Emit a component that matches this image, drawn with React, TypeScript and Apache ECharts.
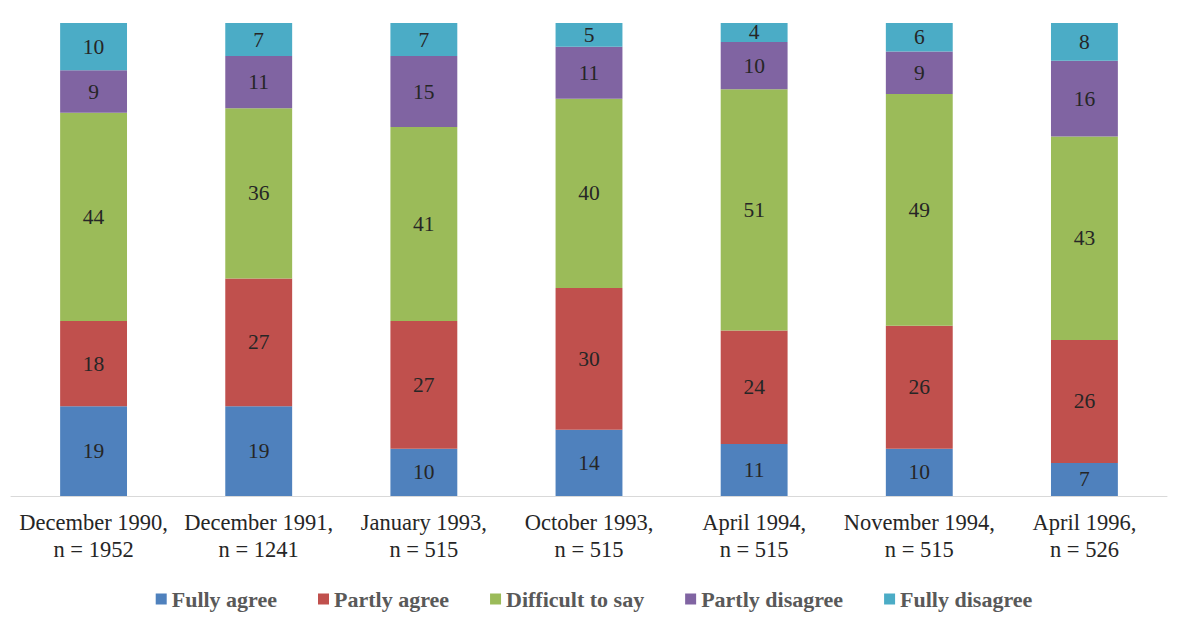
import React, { useEffect, useRef } from "react";
import * as echarts from "echarts";

const categories = [
  "December 1990,\nn = 1952",
  "December 1991,\nn = 1241",
  "January 1993,\nn = 515",
  "October 1993,\nn = 515",
  "April 1994,\nn = 515",
  "November 1994,\nn = 515",
  "April 1996,\nn = 526",
];
const seriesNames = ["Fully agree", "Partly agree", "Difficult to say", "Partly disagree", "Fully disagree"];
const fullyAgree = [19, 19, 10, 14, 11, 10, 7];
const partlyAgree = [18, 27, 27, 30, 24, 26, 26];
const difficult = [44, 36, 41, 40, 51, 49, 43];
const partlyDisagree = [9, 11, 15, 11, 10, 9, 16];
const fullyDisagree = [10, 7, 7, 5, 4, 6, 8];
const colors = ["#4F81BD", "#C0504D", "#9BBB59", "#8064A2", "#4BACC6"];

const SERIF = "'Liberation Serif', 'DejaVu Serif', 'Times New Roman', serif";

export default function App() {
  const ref = useRef<HTMLDivElement>(null);
  useEffect(() => {
    const chart = echarts.init(ref.current!, null, { renderer: "svg" });
    const data = [fullyAgree, partlyAgree, difficult, partlyDisagree, fullyDisagree];
    chart.setOption({
      animation: false,
      backgroundColor: "#ffffff",
      grid: { left: 11, right: 21, top: 23, bottom: 131, containLabel: false },
      legend: {
        bottom: 12,
        left: "center",
        itemWidth: 11,
        itemHeight: 11,
        itemGap: 41,
        icon: "rect",
        textStyle: {
          fontFamily: SERIF,
          fontWeight: "bold",
          fontSize: 22,
          color: "#595959",
        },
        data: seriesNames,
      },
      xAxis: {
        type: "category",
        data: categories,
        axisLine: { lineStyle: { color: "#D9D9D9", width: 1 } },
        axisTick: { show: false },
        axisLabel: {
          interval: 0,
          margin: 13,
          fontFamily: SERIF,
          fontSize: 22.5,
          lineHeight: 27,
          color: "#262626",
        },
      },
      yAxis: { type: "value", min: 0, max: 100, show: false, splitLine: { show: false } },
      series: data.map((d, i) => ({
        name: seriesNames[i],
        type: "bar",
        stack: "total",
        barWidth: "40.5%",
        data: d,
        itemStyle: { color: colors[i] },
        label: {
          show: true,
          position: "inside",
          fontFamily: SERIF,
          fontSize: 21.5,
          color: "#262626",
        },
      })),
    });
    return () => chart.dispose();
  }, []);
  return (
    <div
      ref={ref}
      style={{ position: "fixed", left: 0, top: 0, width: 1188, height: 627 }}
    />
  );
}
